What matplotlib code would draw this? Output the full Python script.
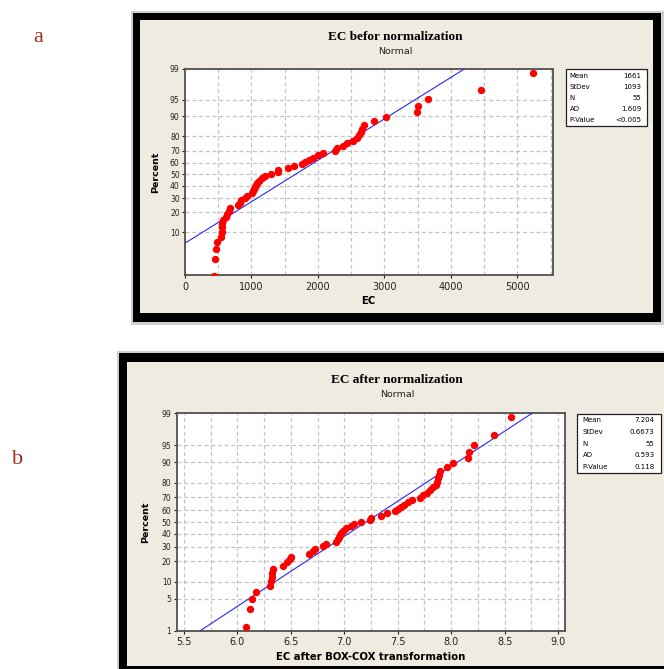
import matplotlib
matplotlib.use("Agg")
import matplotlib.pyplot as plt
from matplotlib.patches import Rectangle
from statistics import NormalDist
import numpy as np

W, H = 664, 669

# ---------------- data ----------------
ec_before = [437, 452, 466, 485, 545, 550, 556, 562, 568, 615, 638, 658, 672,
             795, 822, 845, 905, 930, 1010, 1030, 1042, 1055, 1068, 1088, 1120,
             1165, 1200, 1290, 1395, 1405, 1545, 1635, 1760, 1810, 1865, 1920,
             2000, 2070, 2260, 2290, 2375, 2445, 2535, 2595, 2625, 2645, 2665,
             2690, 2840, 3030, 3490, 3500, 3650, 4460, 5240]
ec_after = [6.080, 6.118, 6.139, 6.174, 6.305, 6.310, 6.320, 6.325, 6.335, 6.430,
            6.460, 6.490, 6.505, 6.670, 6.710, 6.730, 6.800, 6.830, 6.920, 6.940,
            6.950, 6.960, 6.970, 6.990, 7.020, 7.060, 7.090, 7.160, 7.245, 7.250,
            7.340, 7.400, 7.470, 7.500, 7.530, 7.560, 7.600, 7.630, 7.710, 7.740,
            7.770, 7.800, 7.830, 7.855, 7.870, 7.880, 7.890, 7.900, 7.960, 8.020,
            8.160, 8.165, 8.210, 8.400, 8.560]

stats_before = [("Mean", "1661"), ("StDev", "1093"), ("N", "55"),
                ("AD", "1.609"), ("P-Value", "<0.005")]
stats_after = [("Mean", "7.204"), ("StDev", "0.6673"), ("N", "55"),
               ("AD", "0.593"), ("P-Value", "0.118")]
fit_before = (1661, 1093)
fit_after = (7.204, 0.6673)

pct_ticks_before = [10, 20, 30, 40, 50, 60, 70, 80, 90, 95, 99]
pct_ticks_after = [1, 5, 10, 20, 30, 40, 50, 60, 70, 80, 90, 95, 99]
x_ticks_before = [0, 1000, 2000, 3000, 4000, 5000]
x_ticks_after = [5.5, 6.0, 6.5, 7.0, 7.5, 8.0, 8.5, 9.0]

titles = ["EC befor normalization", "EC after normalization"]
xlabels = ["EC", "EC after BOX-COX transformation"]

nd = NormalDist()
def z(p):
    return nd.inv_cdf(p / 100.0)

fig = plt.figure(figsize=(W / 100, H / 100), dpi=100)
fig.patch.set_facecolor("white")

bg = fig.add_axes([0, 0, 1, 1], zorder=0)
bg.set_xlim(0, W)
bg.set_ylim(H, 0)
bg.axis("off")

BEIGE = "#efebe1"

def rect(x0, y0, x1, y1, **kw):
    bg.add_patch(Rectangle((x0, y0), x1 - x0, y1 - y0, **kw))

# ---- frames ----
rect(130.5, 10.5, 663.5, 324.5, facecolor="#d0d0d0", edgecolor="none")
rect(132.7, 12.7, 661.0, 321.7, facecolor="#000000", edgecolor="none")
rect(140.2, 20.0, 652.5, 313.3, facecolor=BEIGE, edgecolor="none")

rect(116.5, 351.3, 680, 680, facecolor="#d0d0d0", edgecolor="none")
rect(118.5, 353.3, 680, 680, facecolor="#000000", edgecolor="none")
rect(126.6, 361.7, 680, 665.7, facecolor=BEIGE, edgecolor="none")

# ---- panel letters ----
bg.text(38, 38, "a", fontsize=16, family="Liberation Serif", color="#9c2c16",
        ha="center", va="center")
bg.text(18, 460, "b", fontsize=16, family="Liberation Serif", color="#9c2c16",
        ha="center", va="center")


def px_to_fig(x0, y0, x1, y1):
    return [x0 / W, 1 - y1 / H, (x1 - x0) / W, (y1 - y0) / H]


def panel(rect_px, data, fit, pct_ticks, xticks, xlim, ylim, xgrid,
          title, xlabel, title_xy, sub_y, ylab_x, xlab_xy, stats, box, rows_y,
          lab_x, val_x):
    ax = fig.add_axes(px_to_fig(*rect_px), zorder=2)
    ax.set_facecolor("white")
    n = len(data)
    vals = sorted(data)
    pos = [(i - 0.3) / (n + 0.4) * 100 for i in range(1, n + 1)]
    zs = [z(p) for p in pos]
    # grid
    for gx in xgrid:
        ax.axvline(gx, color="#c4c4c4", lw=0.9, ls=(0, (3.2, 2.2)), zorder=1)
    for p in pct_ticks:
        ax.axhline(z(p), color="#c4c4c4", lw=0.9, ls=(0, (3.2, 2.2)), zorder=1)
    # fitted line
    mu, sd = fit
    zz = np.linspace(-3, 3, 50)
    ax.plot(mu + sd * zz, zz, color="#2828ff", lw=0.8, zorder=3)
    # points
    ax.plot(vals, zs, "o", color="#ff0000", ms=4.3, mec="#ff0000", zorder=4)
    ax.set_xlim(*xlim)
    ax.set_ylim(*ylim)
    ax.set_xticks(xticks)
    ax.set_xticklabels([("%g" % t) if isinstance(t, int) else ("%.1f" % t)
                        for t in xticks])
    ax.set_yticks([z(p) for p in pct_ticks])
    ax.set_yticklabels([str(p) for p in pct_ticks])
    ax.tick_params(axis="x", labelsize=7, length=2.5, width=0.8, pad=2.2,
                   colors="#202020")
    ax.tick_params(axis="y", labelsize=5.5, length=2.5, width=0.8, pad=1.3,
                   colors="#202020")
    for s in ax.spines.values():
        s.set_color("#505050")
        s.set_linewidth(1.3)
    # texts
    bg.text(title_xy[0], title_xy[1], title, fontsize=9.5,
            family="Liberation Serif", weight="bold", ha="center", va="center")
    bg.text(title_xy[0], sub_y, "Normal", fontsize=6.8, ha="center",
            va="center", color="#202020")
    yc = (rect_px[1] + rect_px[3]) / 2
    bg.text(ylab_x, yc, "Percent", fontsize=6.8, weight="bold", rotation=90,
            ha="center", va="center")
    bg.text(xlab_xy[0], xlab_xy[1], xlabel, fontsize=7.3, weight="bold",
            ha="center", va="center")
    # stats box
    rect(box[0], box[1], box[2], box[3], facecolor="white",
         edgecolor="#202020", lw=0.9, zorder=3)
    for (lab, v), ry in zip(stats, rows_y):
        bg.text(lab_x, ry, lab, fontsize=5, ha="left", va="center", zorder=4)
        bg.text(val_x, ry, v, fontsize=5, ha="right", va="center", zorder=4)
    return ax


panel((185, 69, 552.7, 275), ec_before, fit_before, pct_ticks_before,
      x_ticks_before, (0, 5533), (-2.223, z(99)),
      np.arange(500, 5501, 500),
      titles[0], xlabels[0], (395.5, 36.7), 51.0, 155.5, (368, 300.7),
      stats_before, (565.7, 69.3, 646.7, 125.7),
      [75.7, 86.9, 98.1, 109.3, 120.5], 569.5, 641.5)

panel((176.7, 413.3, 565, 630.7), ec_after, fit_after, pct_ticks_after,
      x_ticks_after, (5.4317, 9.0655), (z(1), z(99)),
      np.arange(5.5, 9.01, 0.25),
      titles[1], xlabels[1], (397, 380.0), 394.3, 145.8, (370.7, 656.7),
      stats_after, (577.3, 414.3, 660.7, 473.3),
      [420.0, 431.6, 443.5, 455.3, 467.0], 582.7, 654.5)

fig.savefig("out.png", dpi=100, facecolor="white")
